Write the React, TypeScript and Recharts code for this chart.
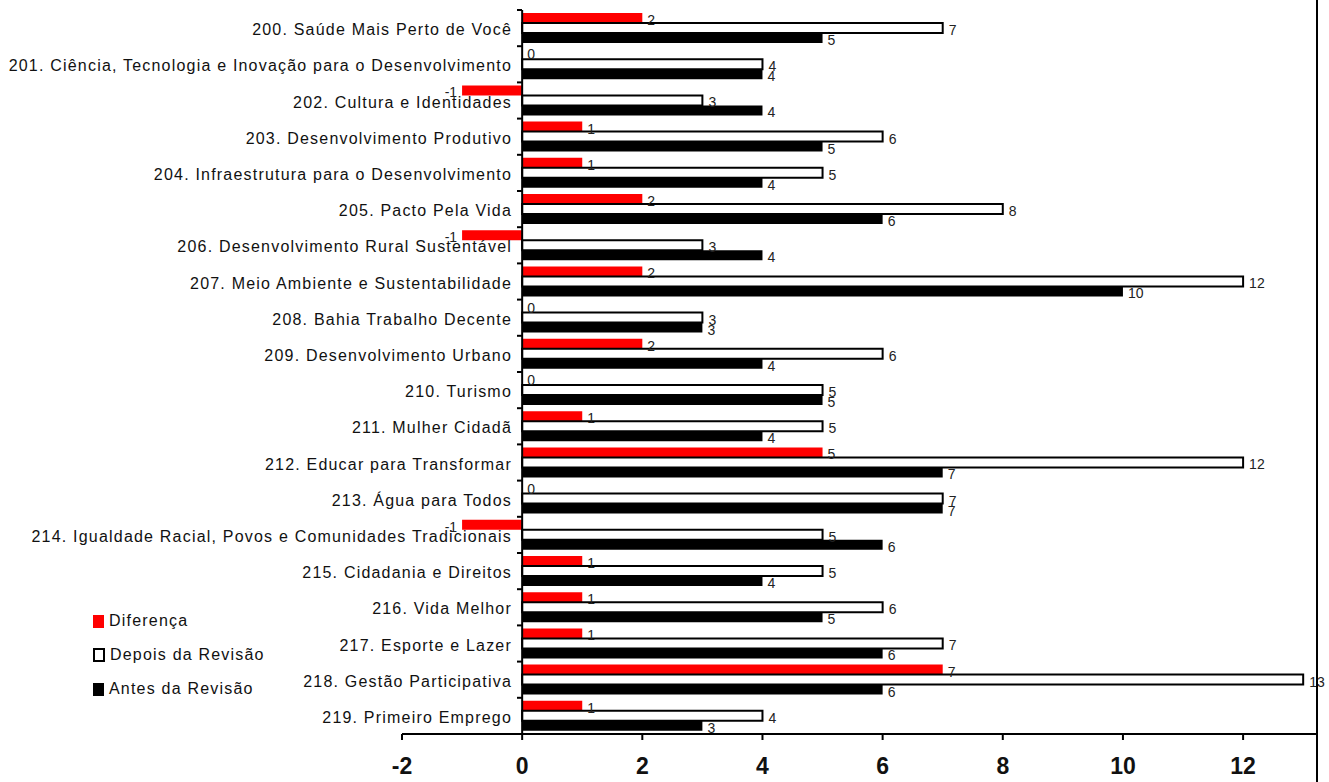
import React from 'react';
import { BarChart, Bar, XAxis, YAxis, ReferenceLine, LabelList } from 'recharts';

const programas = [
  '200. Saúde Mais Perto de Você',
  '201. Ciência, Tecnologia e Inovação para o Desenvolvimento',
  '202. Cultura e Identidades',
  '203. Desenvolvimento Produtivo',
  '204. Infraestrutura para o Desenvolvimento',
  '205. Pacto Pela Vida',
  '206. Desenvolvimento Rural Sustentável',
  '207. Meio Ambiente e Sustentabilidade',
  '208. Bahia Trabalho Decente',
  '209. Desenvolvimento Urbano',
  '210. Turismo',
  '211. Mulher Cidadã',
  '212. Educar para Transformar',
  '213. Água para Todos',
  '214. Igualdade Racial, Povos e Comunidades Tradicionais',
  '215. Cidadania e Direitos',
  '216. Vida Melhor',
  '217. Esporte e Lazer',
  '218. Gestão Participativa',
  '219. Primeiro Emprego',
];

const diferenca = [2, 0, -1, 1, 1, 2, -1, 2, 0, 2, 0, 1, 5, 0, -1, 1, 1, 1, 7, 1];
const depois = [7, 4, 3, 6, 5, 8, 3, 12, 3, 6, 5, 5, 12, 7, 5, 5, 6, 7, 13, 4];
const antes = [5, 4, 4, 5, 4, 6, 4, 10, 3, 4, 5, 4, 7, 7, 6, 4, 5, 6, 6, 3];

const xTicks = [-2, 0, 2, 4, 6, 8, 10, 12];

const legendItems = [
  { label: 'Diferença', fill: '#ff0000', stroke: 'none' },
  { label: 'Depois da Revisão', fill: '#ffffff', stroke: '#000000' },
  { label: 'Antes da Revisão', fill: '#000000', stroke: 'none' },
];

const data = programas.map((name, i) => ({
  name,
  diferenca: diferenca[i],
  depois: depois[i],
  antes: antes[i],
}));

const FONT = '"Liberation Sans", Arial, sans-serif';
const ZERO_X = 522;
const BAND = 36.2;

const CategoryTick = (props: any) => {
  const { y, payload } = props;
  return (
    <g>
      <line x1={ZERO_X - 5} x2={ZERO_X} y1={y - BAND / 2} y2={y - BAND / 2} stroke="#000" strokeWidth={2} />
      <text
        x={512}
        y={y}
        dy={7}
        textAnchor="end"
        fontSize={16}
        letterSpacing={1.2}
        fill="#111"
        fontFamily={FONT}
      >
        {payload.value}
      </text>
    </g>
  );
};

// zero-valued "Diferença" bars have no rectangle, so their label is drawn
// from the "Depois" bar just below it
const ZeroDiffLabel = (props: any) => {
  const vb = props.viewBox || props;
  if (props.value !== 0 || vb == null) return null;
  return (
    <text x={vb.x + 5} y={vb.y - vb.height / 2} dy="0.35em" fontSize={14} fill="#222" fontFamily={FONT}>
      0
    </text>
  );
};

const labelStyle = { fontSize: 14, fill: '#222', fontFamily: FONT };
const fmt = (v: any) => String(v);

export default function App() {
  return (
    <div style={{ position: 'absolute', left: 0, top: 0, width: 1329, height: 782, background: '#fff' }}>
      <BarChart
        width={1329}
        height={782}
        data={data}
        layout="vertical"
        margin={{ top: 10, right: 12, bottom: 8, left: 401 }}
        barCategoryGap={3}
        barGap={0}
      >
        <XAxis
          type="number"
          domain={[-2, 13.23]}
          ticks={xTicks}
          allowDataOverflow
          height={40}
          axisLine={{ stroke: '#000', strokeWidth: 2 }}
          tickLine={{ stroke: '#000', strokeWidth: 2 }}
          tickSize={6}
          tickMargin={18}
          tick={{ fontSize: 23, fontWeight: 'bold', fill: '#111', fontFamily: FONT }}
        />
        <YAxis
          type="category"
          dataKey="name"
          width={1}
          interval={0}
          axisLine={false}
          tickLine={false}
          tick={(p: any) => <CategoryTick {...p} />}
        />
        <Bar dataKey="diferenca" fill="#ff0000" isAnimationActive={false}>
          <LabelList dataKey="diferenca" position="right" offset={5} dy={2} formatter={fmt} style={labelStyle} />
        </Bar>
        <Bar dataKey="depois" fill="#ffffff" stroke="#000" strokeWidth={2} isAnimationActive={false}>
          <LabelList dataKey="depois" position="right" offset={6} dy={2} formatter={fmt} style={labelStyle} />
          <LabelList dataKey="diferenca" content={ZeroDiffLabel} />
        </Bar>
        <Bar dataKey="antes" fill="#000000" isAnimationActive={false}>
          <LabelList dataKey="antes" position="right" offset={5} dy={2} formatter={fmt} style={labelStyle} />
        </Bar>
        <ReferenceLine x={0} stroke="#000" strokeWidth={2} />
      </BarChart>
      <div style={{ position: 'absolute', left: 93, top: 604, fontFamily: FONT, fontSize: 16, letterSpacing: 1.2, color: '#111' }}>
        {legendItems.map((item) => (
          <div key={item.label} style={{ display: 'flex', alignItems: 'center', height: 34 }}>
            <div
              style={{
                width: item.stroke === 'none' ? 11 : 8,
                height: item.stroke === 'none' ? 13 : 10,
                background: item.fill,
                border: item.stroke === 'none' ? 'none' : `2px solid ${item.stroke}`,
                marginRight: 5,
              }}
            />
            <span>{item.label}</span>
          </div>
        ))}
      </div>
      <div style={{ position: 'absolute', left: 1316, top: 0, width: 2, height: 782, background: '#000' }} />
    </div>
  );
}
